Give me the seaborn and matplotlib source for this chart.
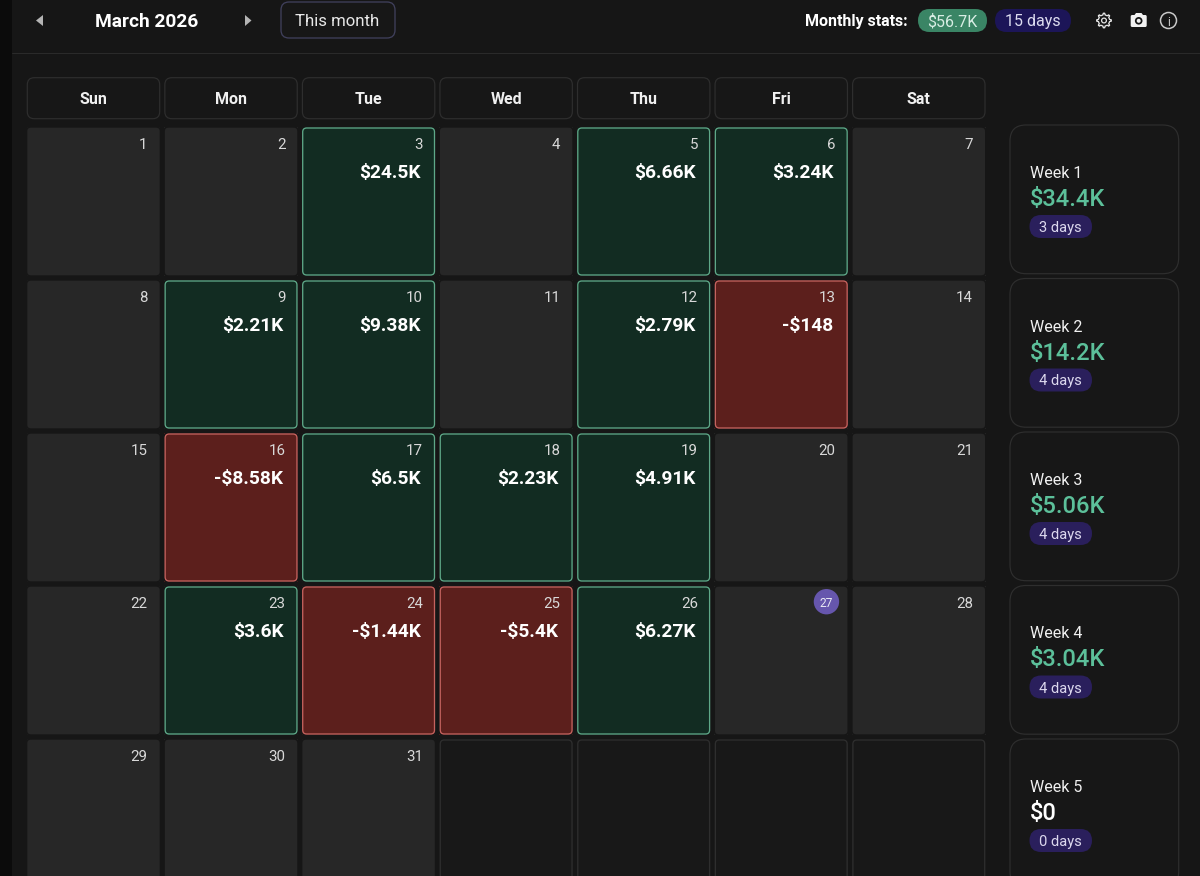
import numpy as np
import matplotlib
matplotlib.use("Agg")
import matplotlib.pyplot as plt
from matplotlib.colors import ListedColormap
from matplotlib.patches import FancyBboxPatch, Polygon, Circle
import seaborn as sns

# calendar data
month_title = "March 2026"
weekdays = ["Sun", "Mon", "Tue", "Wed", "Thu", "Fri", "Sat"]
num_days = 31
today = 27
trade_days = [3, 5, 6, 9, 10, 12, 13, 16, 17, 18, 19, 23, 24, 25, 26]
trade_pnl = [24.5, 6.66, 3.24, 2.21, 9.38, 2.79, -0.148, -8.58, 6.5, 2.23, 4.91, 3.6, -1.44, -5.4, 6.27]
trade_labels = ["$24.5K", "$6.66K", "$3.24K", "$2.21K", "$9.38K", "$2.79K", "-$148", "-$8.58K",
                "$6.5K", "$2.23K", "$4.91K", "$3.6K", "-$1.44K", "-$5.4K", "$6.27K"]

week_names = ["Week 1", "Week 2", "Week 3", "Week 4", "Week 5"]
week_totals = ["$34.4K", "$14.2K", "$5.06K", "$3.04K", "$0"]
week_counts = ["3 days", "4 days", "4 days", "4 days", "0 days"]

month_total = "$56.7K"
month_count = "15 days"

# colours
BG = "#161616"
CELL_COLORS = ["#181818", "#272727", "#122c22", "#5c1f1c"]
CELL_EDGES = ["#2e2e2e", None, "#5ea888", "#c4625e"]
GREEN_TXT = "#5cc09a"

# layout in pixels
W, H = 1200, 876
X0, Y0 = 27.3, 127.7
PITCH_X, PITCH_Y = 137.55, 153.0
CELL_W, CELL_H = 132.4, 147.6
WEEK_PITCH = 153.5
GAP = 4.0
PX = 0.72  # px to pt at dpi 100

sns.set_theme(style="dark", rc={"figure.facecolor": BG, "axes.facecolor": BG})
plt.rcParams["font.family"] = ["Roboto", "DejaVu Sans"]

# build the month grid (the 1st is a Sunday)
state = np.zeros((5, 7), dtype=int)
day_no = np.zeros((5, 7), dtype=int)
for d in range(1, num_days + 1):
    r, c = divmod(d - 1, 7)
    day_no[r, c] = d
    state[r, c] = 1
for d, v in zip(trade_days, trade_pnl):
    r, c = divmod(d - 1, 7)
    state[r, c] = 2 if v > 0 else 3

fig = plt.figure(figsize=(12, 8.76), dpi=100, facecolor=BG)

# cell fills with seaborn
left = X0 - (PITCH_X - CELL_W) / 2
top = Y0 - (PITCH_Y - CELL_H) / 2
hax = fig.add_axes([left / W, 1 - (top + 5 * PITCH_Y) / H, 7 * PITCH_X / W, 5 * PITCH_Y / H], zorder=1)
sns.heatmap(state, ax=hax, cmap=ListedColormap(CELL_COLORS), vmin=0, vmax=3, cbar=False,
            linewidths=GAP * PX, linecolor=BG, xticklabels=False, yticklabels=False)

# everything else in pixel coordinates on top
ax = fig.add_axes([0, 0, 1, 1], zorder=2, facecolor="none")
ax.set_xlim(0, W)
ax.set_ylim(H, 0)
ax.axis("off")


def box(x0, y0, x1, y1, rad, fc="none", ec="none", lw=1.0, z=2):
    p = FancyBboxPatch((x0 + rad, y0 + rad), x1 - x0 - 2 * rad, y1 - y0 - 2 * rad,
                       boxstyle=f"round,pad={rad},rounding_size={rad}",
                       fc=fc, ec=ec, lw=lw * PX, zorder=z)
    ax.add_patch(p)


def label(x, y, s, size, color="#ffffff", ha="left", weight="normal", z=5):
    ax.text(x, y, s, fontsize=size * PX, color=color, ha=ha, va="center_baseline", fontweight=weight, zorder=z)


# left strip and header rule
ax.fill_between([0, 12], 0, H, color="#0b0b0b", lw=0, zorder=1)
ax.plot([12, W], [53, 53], color="#2a2a2a", lw=1 * PX, zorder=1)

# top bar
ax.add_patch(Polygon([[43, 15], [43, 26], [36, 20.5]], fc="#b4b4b4", ec="none", zorder=3))
ax.add_patch(Polygon([[245, 15], [245, 26], [251.5, 20.5]], fc="#b4b4b4", ec="none", zorder=3))
label(95, 20, month_title, 19.2, weight="bold")
box(281, 2, 395, 38, 8, fc="#171717", ec="#40405c", lw=1.3)
label(295, 19.5, "This month", 16.8, color="#e8e8e8")
label(805, 20, "Monthly stats:", 16, weight="bold")
box(918, 9, 987, 32, 11.5, fc="#3a8565")
label(952.5, 20, month_total, 16, color="#d8eee4", ha="center")
box(995, 9, 1071, 32, 11.5, fc="#1c1558")
label(1033, 20, month_count, 16, color="#dcdcf0", ha="center")

# gear, camera, info
ang = np.linspace(0, 2 * np.pi, 65)[:-1]
rad = np.where(np.cos(8 * ang) > 0.1, 7.3, 5.6)
gear = np.column_stack([1104 + rad * np.cos(ang), 20.5 + rad * np.sin(ang)])
ax.add_patch(Polygon(gear, fc="none", ec="#e6e6e6", lw=0.9, joinstyle="round", zorder=3))
ax.add_patch(Circle((1104, 20.5), 2.4, fc="none", ec="#e6e6e6", lw=0.9, zorder=3))
box(1130.7, 15, 1146.7, 27, 1.5, fc="#f2f2f2", z=3)
ax.add_patch(Polygon([[1134.5, 15], [1136, 13], [1141.5, 13], [1143, 15]], fc="#f2f2f2", ec="none", zorder=3))
ax.add_patch(Circle((1138.7, 20.8), 3.8, fc="#161616", ec="none", zorder=4))
ax.add_patch(Circle((1138.7, 20.8), 2.0, fc="#f2f2f2", ec="none", zorder=4))
ax.add_patch(Circle((1168.5, 20.5), 8, fc="none", ec="#c8c8c8", lw=1.1, zorder=3))
label(1168.5, 20.5, "i", 12, color="#c8c8c8", ha="center")

# weekday header buttons
for c, name in enumerate(weekdays):
    x = X0 + c * PITCH_X
    box(x, 77.7, x + CELL_W, 118.7, 7, fc="#171717", ec="#2e2e2e", lw=1.2)
    label(x + CELL_W / 2, 98, name, 16, color="#f0f0f0", ha="center", weight="bold")

# round the heatmap cells, add borders and text
value_by_day = dict(zip(trade_days, trade_labels))
for r in range(5):
    for c in range(7):
        x0 = X0 + c * PITCH_X
        y0 = Y0 + r * PITCH_Y
        x1 = x0 + CELL_W
        y1 = y0 + CELL_H
        box(x0 - 0.8, y0 - 0.8, x1 + 0.8, y1 + 0.8, 4.5, ec=BG, lw=1.6)
        edge = CELL_EDGES[state[r, c]]
        if edge:
            box(x0 + 0.3, y0 + 0.3, x1 - 0.3, y1 - 0.3, 4, ec=edge, lw=1.3, z=3)
        d = day_no[r, c]
        if d == 0:
            continue
        if d == today:
            ax.add_patch(Circle((x1 - 21, y0 + 15), 12.7, fc="#6656ad", ec="none", zorder=4))
            label(x1 - 21, y0 + 15, str(d), 12, color="#e8e8f4", ha="center")
        else:
            label(x1 - 12, y0 + 16, str(d), 15, color="#d8d8d8", ha="right")
        if d in value_by_day:
            label(x1 - 14, y0 + 43, value_by_day[d], 19.2, ha="right", weight="bold")

# week cards
for i, name in enumerate(week_names):
    y0 = 125 + i * WEEK_PITCH
    box(1010, y0, 1178.7, y0 + 148.7, 16, fc="#171717", ec="#2e2e2e", lw=1.2)
    label(1030, y0 + 47, name, 16, color="#f0f0f0")
    col = GREEN_TXT if week_totals[i] != "$0" else "#ffffff"
    label(1030, y0 + 72, week_totals[i], 23.8, color=col, weight="medium")
    box(1029.5, y0 + 90, 1092, y0 + 113, 11.5, fc="#2a1f5c", z=3)
    label(1060.5, y0 + 101.5, week_counts[i], 14.8, color="#dcd8ee", ha="center")

fig.savefig("out.png", dpi=100, facecolor=BG)
